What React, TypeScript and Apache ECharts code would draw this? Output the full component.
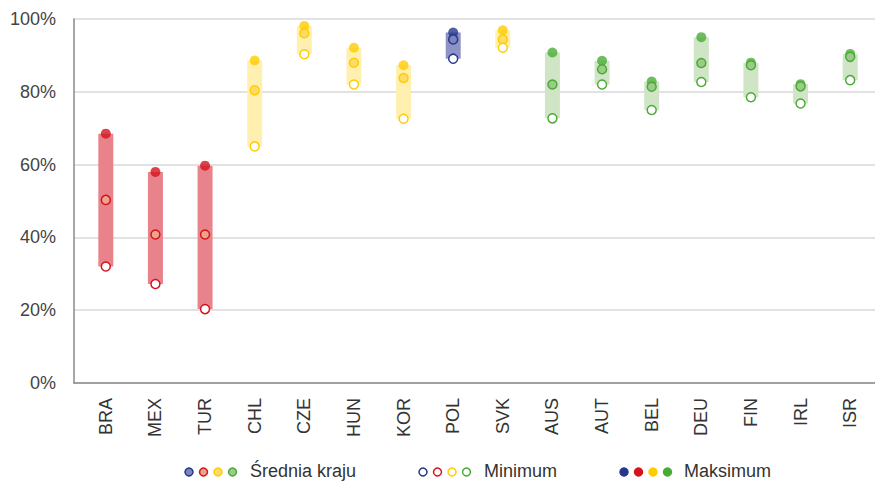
import React, { useEffect, useRef } from "react";
import * as echarts from "echarts";

const categories = ["BRA", "MEX", "TUR", "CHL", "CZE", "HUN", "KOR", "POL", "SVK", "AUS", "AUT", "BEL", "DEU", "FIN", "IRL", "ISR"];
const groups = ["red", "red", "red", "yellow", "yellow", "yellow", "yellow", "blue", "yellow", "green", "green", "green", "green", "green", "green", "green"];
const minValues = [32.0, 27.2, 20.3, 65.0, 90.3, 82.0, 72.6, 89.1, 92.1, 72.7, 82.0, 75.0, 82.7, 78.5, 76.8, 83.2];
const meanValues = [50.3, 40.8, 40.8, 80.4, 96.1, 88.0, 83.8, 94.4, 94.4, 82.0, 86.2, 81.4, 87.9, 87.3, 81.5, 89.6];
const maxValues = [68.5, 58.0, 59.7, 88.6, 98.1, 92.1, 87.3, 96.3, 96.9, 90.8, 88.5, 82.8, 95.0, 88.0, 82.1, 90.4];
const yTicks = [0, 20, 40, 60, 80, 100];
const legendLabels = ["Średnia kraju", "Minimum", "Maksimum"];

const palette: Record<string, { bar: string; dark: string; mean: string }> = {
  red: { bar: "#e8838c", dark: "#d5131d", mean: "#eca58c" },
  yellow: { bar: "#fff0b0", dark: "#ffcc00", mean: "#fddc6a" },
  blue: { bar: "#8d93c6", dark: "#25388c", mean: "#7e85bd" },
  green: { bar: "#cfe5c5", dark: "#4aab34", mean: "#9ccb89" },
};
const legendOrder = ["blue", "red", "yellow", "green"];

const FONT = "'Liberation Sans', Arial, Helvetica, sans-serif";

export default function App() {
  const ref = useRef<HTMLDivElement>(null);
  useEffect(() => {
    if (!ref.current) return;
    const chart = echarts.init(ref.current, undefined, { renderer: "svg" });

    const legendGraphics: any[] = [];
    const legendX = [189, 423, 624];
    const legendTextX = [250, 484, 684];
    const legendY = 472;
    legendLabels.forEach((label, li) => {
      legendOrder.forEach((g, ci) => {
        const p = palette[g];
        let fill = p.mean;
        let stroke = p.dark;
        if (li === 1) fill = "#ffffff";
        if (li === 2) fill = p.dark;
        legendGraphics.push({
          type: "circle",
          shape: { cx: legendX[li] + ci * 14.5, cy: legendY, r: li === 2 ? 4.7 : 4 },
          style: { fill, stroke, lineWidth: li === 2 ? 0 : 1.5 },
          silent: true,
        });
      });
      legendGraphics.push({
        type: "text",
        x: legendTextX[li],
        y: legendY - 1,
        style: {
          text: label,
          fill: "#333",
          font: `18px ${FONT}`,
          verticalAlign: "middle",
          align: "left",
        },
        silent: true,
      });
    });

    chart.setOption({
      animation: false,
      grid: [
        { left: 74, right: 0, top: 19, bottom: 98 },
        { left: 81, width: 801, top: 19, bottom: 98 },
      ],
      xAxis: [
        {
          type: "value",
          gridIndex: 0,
          min: 0,
          max: 1,
          axisLine: { show: true, onZero: false, lineStyle: { color: "#8a8a8a", width: 1.5 } },
          axisTick: { show: false },
          axisLabel: { show: false },
          splitLine: { show: false },
        },
        {
          type: "category",
          gridIndex: 1,
          data: categories,
          axisLine: { show: false },
          axisTick: { show: false },
          axisLabel: {
            rotate: 90,
            margin: 15,
            fontSize: 18,
            fontFamily: FONT,
            color: "#333",
            interval: 0,
          },
        },
      ],
      yAxis: [
        {
          type: "value",
          gridIndex: 0,
          min: yTicks[0],
          max: yTicks[yTicks.length - 1],
          interval: 20,
          axisLine: { show: true, lineStyle: { color: "#8a8a8a", width: 1.5 } },
          axisTick: { show: false },
          axisLabel: {
            formatter: "{value}%",
            fontSize: 18,
            fontFamily: FONT,
            color: "#444",
            margin: 18,
          },
          splitLine: { show: true, lineStyle: { color: "#e2e2e2", width: 2 } },
        },
        {
          type: "value",
          gridIndex: 1,
          min: 0,
          max: 100,
          show: false,
          splitLine: { show: false },
        },
      ],
      graphic: legendGraphics,
      series: [
        {
          type: "bar",
          xAxisIndex: 1,
          yAxisIndex: 1,
          stack: "range",
          barWidth: 15,
          silent: true,
          itemStyle: { color: "transparent" },
          data: minValues,
        },
        {
          type: "bar",
          xAxisIndex: 1,
          yAxisIndex: 1,
          stack: "range",
          barWidth: 15,
          silent: true,
          data: maxValues.map((v, i) => ({
            value: +(v - minValues[i]).toFixed(2),
            itemStyle: { color: palette[groups[i]].bar },
          })),
        },
        {
          type: "scatter",
          xAxisIndex: 1,
          yAxisIndex: 1,
          symbolSize: 10,
          z: 3,
          data: maxValues.map((v, i) => ({
            value: [categories[i], v],
            itemStyle: { color: palette[groups[i]].dark },
          })),
        },
        {
          type: "scatter",
          xAxisIndex: 1,
          yAxisIndex: 1,
          symbolSize: 9,
          z: 4,
          data: meanValues.map((v, i) => ({
            value: [categories[i], v],
            itemStyle: {
              color: palette[groups[i]].mean,
              borderColor: palette[groups[i]].dark,
              borderWidth: 1.5,
              opacity: 1,
            },
          })),
        },
        {
          type: "scatter",
          xAxisIndex: 1,
          yAxisIndex: 1,
          symbolSize: 9,
          z: 5,
          data: minValues.map((v, i) => ({
            value: [categories[i], v],
            itemStyle: {
              color: "#ffffff",
              borderColor: palette[groups[i]].dark,
              borderWidth: 1.5,
              opacity: 1,
            },
          })),
        },
      ],
    });
    return () => chart.dispose();
  }, []);
  return <div ref={ref} style={{ width: 875, height: 481, position: "absolute", left: 0, top: 0 }} />;
}
